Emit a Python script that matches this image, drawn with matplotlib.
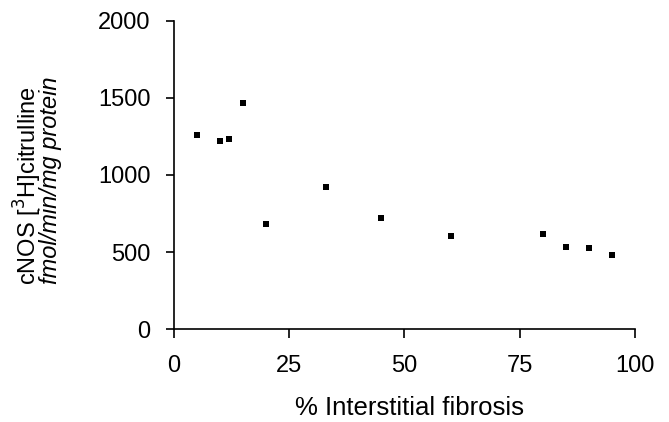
import numpy as np
import matplotlib.pyplot as plt

plt.rcParams['font.family'] = ['Liberation Sans', 'DejaVu Sans']

# fibrosis (%) vs cNOS activity
fibrosis = [5, 10, 12, 15, 20, 33, 45, 60, 80, 85, 90, 95]
citrulline = [1260, 1218, 1235, 1467, 682, 924, 719, 607, 616, 535, 525, 482]

x_ticks = [0, 25, 50, 75, 100]
y_ticks = [0, 500, 1000, 1500, 2000]

fig = plt.figure(figsize=(6.69, 4.22), dpi=100)
ax = fig.add_axes([0.260, 0.220, 0.689, 0.731])

ax.plot(fibrosis, citrulline, 's', color='black', markersize=5, markeredgewidth=0)

ax.set_xlim(0, 100)
ax.set_ylim(0, 2000)
ax.set_xticks(x_ticks)
ax.set_yticks(y_ticks)

for side in ['top', 'right']:
    ax.spines[side].set_visible(False)
for side in ['left', 'bottom']:
    ax.spines[side].set_linewidth(1.2)

ax.tick_params(axis='x', direction='out', length=6.5, width=1.2, pad=12, labelsize=17)
ax.tick_params(axis='y', direction='out', length=6, width=1.2, pad=11, labelsize=17)

ax.set_xlabel('% Interstitial fibrosis', fontsize=18.5, labelpad=14, x=0.512)

# two-line y label, second line in italics
ax.text(-0.299, 0.464, 'cNOS [$^{3}$H]citrulline', transform=ax.transAxes,
        rotation=90, rotation_mode='anchor', ha='center', va='baseline',
        fontsize=17)
ax.text(-0.254, 0.484, 'fmol/min/mg protein', transform=ax.transAxes,
        rotation=90, rotation_mode='anchor', ha='center', va='baseline',
        fontsize=17, style='italic')

fig.savefig('out.png', dpi=100)
